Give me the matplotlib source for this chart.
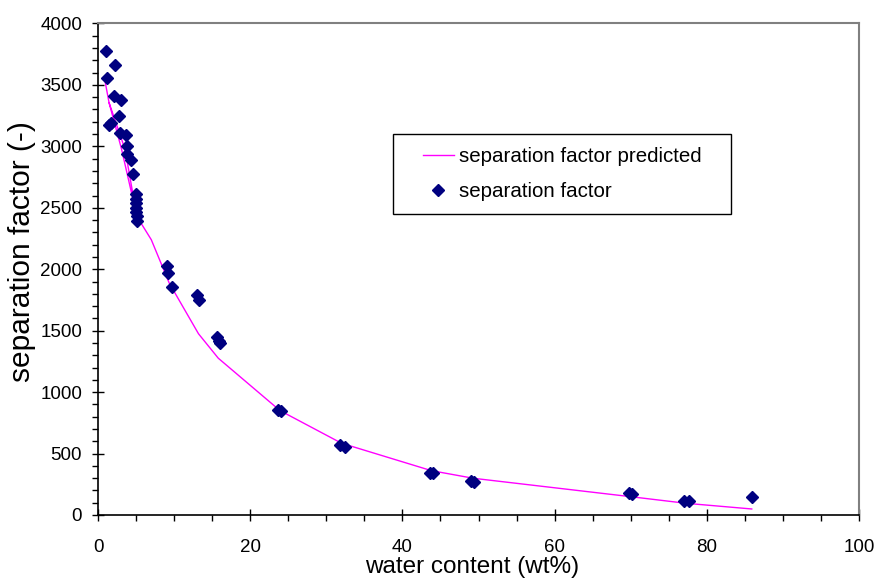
import numpy as np
import matplotlib
matplotlib.use("Agg")
import matplotlib.pyplot as plt
from matplotlib.ticker import MultipleLocator
from matplotlib.patches import Rectangle

plt.rcParams["font.family"] = ["Liberation Sans", "DejaVu Sans"]

# measured separation factor vs water content
water_meas = [1.05, 2.23, 1.22, 2.1, 3.0, 2.76, 1.5, 1.65, 2.9, 3.67, 3.76, 3.76,
              4.38, 4.55, 4.95, 5.0, 5.05, 4.95, 5.05, 5.1, 5.15,
              9.0, 9.2, 9.75, 13.0, 13.25, 15.6, 15.85, 16.0, 23.7, 24.0,
              31.8, 32.4, 43.6, 44.0, 49.0, 49.4, 69.8, 70.2, 77.0, 77.7, 85.9]
sep_meas = [3777, 3658, 3557, 3408, 3381, 3250, 3177, 3191, 3109, 3096, 3000, 2941,
            2886, 2772, 2615, 2575, 2540, 2500, 2465, 2430, 2395,
            2028, 1969, 1852, 1787, 1752, 1447, 1418, 1400, 855, 845,
            570, 556, 345, 338, 280, 272, 177, 170, 117, 117, 144]

# predicted curve (two branches at low water content)
water_pred = [0.96, 1.45, 3.1, 5.1, np.nan, 1.45, 3.55, 5.1, 7.0, 9.35, 13.2, 15.8,
              23.9, 32.0, 43.8, 49.3, 70.0, 77.3, 85.9]
sep_pred = [3517, 3355, 2975, 2430, np.nan, 3355, 2975, 2430, 2240, 1888, 1475, 1276,
            850, 584, 361, 299, 149, 95, 49]

fig = plt.figure(figsize=(8.8, 5.81), dpi=100)
ax = fig.add_axes([0.1114, 0.1136, 0.8648, 0.846])

ax.plot(water_pred, sep_pred, color="#FF00FF", linewidth=1.0,
        label="separation factor predicted")
ax.plot(water_meas, sep_meas, linestyle="none", marker="D", markersize=6,
        color="#000080", label="separation factor")

ax.set_xlim(0, 100)
ax.set_ylim(0, 4000)
ax.xaxis.set_major_locator(MultipleLocator(20))
ax.xaxis.set_minor_locator(MultipleLocator(5))
ax.yaxis.set_major_locator(MultipleLocator(500))
ax.yaxis.set_minor_locator(MultipleLocator(100))

ax.tick_params(which="major", direction="inout", length=9, width=1.0, labelsize=13.5)
ax.tick_params(which="minor", direction="out", length=4, width=1.0)
ax.tick_params(axis="x", which="major", pad=12.5)
ax.tick_params(axis="y", which="major", pad=7)

for side in ["top", "right"]:
    ax.spines[side].set_color("#808080")
    ax.spines[side].set_linewidth(1.5)
for side in ["left", "bottom"]:
    ax.spines[side].set_linewidth(1.2)

ax.set_xlabel("water content (wt%)", fontsize=17.5)
ax.set_ylabel("separation factor (-)", fontsize=21.5)
ax.xaxis.set_label_coords(0.4915, -0.083)
ax.yaxis.set_label_coords(-0.082, 0.5366)

# legend: square black box, content centred inside
ax.add_patch(Rectangle((0.3877, 0.6118), 0.4442, 0.1626, transform=ax.transAxes,
                       facecolor="white", edgecolor="black", linewidth=1.0, zorder=4))
leg = ax.legend(loc="center", bbox_to_anchor=(0.6097, 0.6931), fontsize=14.8,
                frameon=False, borderpad=0, labelspacing=0.78,
                handlelength=1.5, handletextpad=0.25)
leg.set_zorder(5)

fig.savefig("out.png", dpi=100)
